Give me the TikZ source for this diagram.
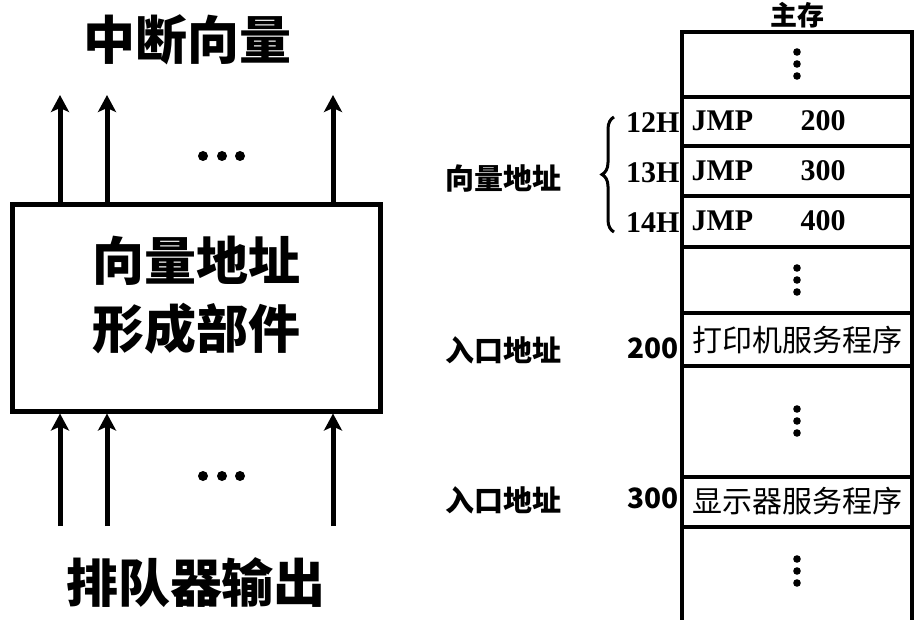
\documentclass[tikz,border=0pt]{standalone}
\usepackage{fontspec}
\setmainfont{Liberation Serif}
\newfontfamily\cjk{Noto Sans CJK SC}
\newfontfamily\cjkheavy{Noto Sans CJK SC Black}
\usetikzlibrary{arrows.meta, positioning, decorations.pathreplacing}
\tikzset{
x=1pt, y=-1pt, % one unit is one pixel of the picture, y runs down
sig/.style={line width=5pt, -{Stealth[length=17pt, width=18pt, inset=4pt]}}, % the signal arrows
big/.style={font=\cjkheavy\fontsize{52}{68}\selectfont, align=center},
lbl/.style={font=\cjk\bfseries\fontsize{29}{34}\selectfont},
cell/.style={font=\cjk\fontsize{30}{34}\selectfont},
num/.style={font=\bfseries\fontsize{30}{32}\selectfont},
memline/.style={line width=3.5pt},
}

\begin{document}
\begin{tikzpicture}
        \useasboundingbox (0,0) rectangle (916,620);

        % left part: the unit that forms the vector address
        \node[big] (title) at (187,40) {中断向量};
        \node[draw, line width=5pt, minimum width=368pt, minimum height=206pt] (form) at (196,308) {};
        \node[big] (formtext) at (196,295) {向量地址\\形成部件};
        \node[big] (queue) at (196,583) {排队器输出};

        \foreach \x [count=\i] in {60,107,333} {
          \coordinate (out\i) at (\x,95);
          \coordinate (in\i) at (\x,526);
          \draw[sig] (form.north -| out\i) -- (out\i);
          \draw[sig] (in\i) -- (form.south -| in\i);
        }
        \foreach \x in {203,222,240} {
          \fill (\x,156) circle (5);
          \fill (\x,476) circle (5);
        }

        % right part: main memory
        \node[cell, font=\cjk\bfseries\fontsize{27}{30}\selectfont] (mem) at (797,15) {主存};
        \draw[line width=4.5pt] (682,640) -- (682,32) -- (912,32) -- (912,640);
        \foreach \y in {97,146,196,247,313,366,477,527}
          \draw[memline] (682,\y) -- (912,\y);

        \foreach \y in {64,280,421,571}
          \foreach \d in {-12,0,12}
            \fill (797,\y+\d) circle (3.8);

        \node[num, anchor=west] (jmp1) at (688,121) {JMP};
        \node[num, anchor=west] (dst1) at (797,121) {200};
        \node[num, anchor=west] (jmp2) at (688,171) {JMP};
        \node[num, anchor=west] (dst2) at (797,171) {300};
        \node[num, anchor=west] (jmp3) at (688,221) {JMP};
        \node[num, anchor=west] (dst3) at (797,221) {400};

        \node[num, anchor=east] (a12) at (683,123) {12H};
        \node[num, anchor=east] (a13) at (683,173) {13H};
        \node[num, anchor=east] (a14) at (683,223) {14H};
        \draw[line width=3pt, decorate, decoration={brace, amplitude=12pt}] (614,232) -- (614,117);
        \node[lbl] (vecaddr) at (503,178) {向量地址};

        \node[cell] (prn) at (797,340) {打印机服务程序};
        \node[cell] (dsp) at (797,501) {显示器服务程序};
        \node[cell, font=\cjk\bfseries\fontsize{28}{32}\selectfont, anchor=east] (e200) at (682,348) {200};
        \node[cell, font=\cjk\bfseries\fontsize{28}{32}\selectfont, anchor=east] (e300) at (682,498) {300};
        \node[lbl] (entry1) at (503,350) {入口地址};
        \node[lbl] (entry2) at (503,500) {入口地址};
\end{tikzpicture}
\end{document}
